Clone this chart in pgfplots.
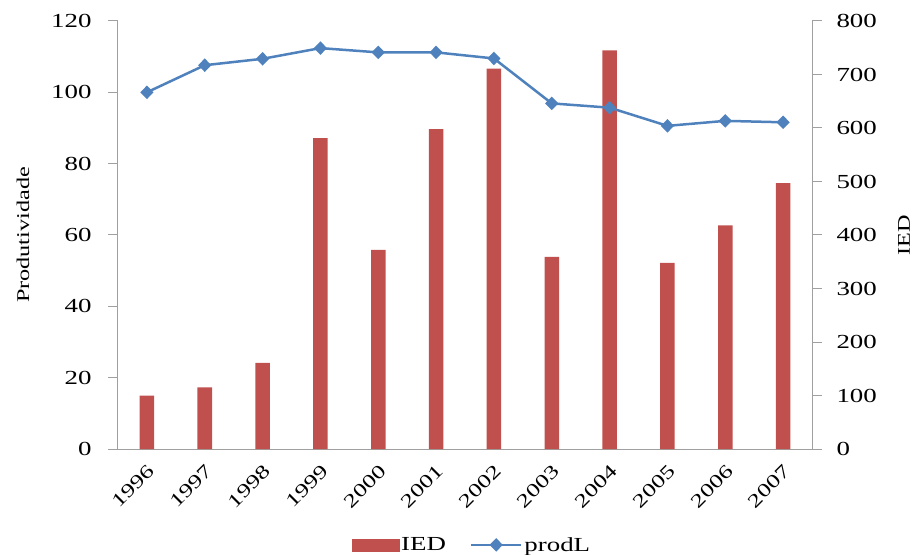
\documentclass[border=0pt]{standalone}
\usepackage{fontspec}
\setmainfont{Liberation Serif}[FakeStretch=1.35]
\usepackage{pgfplots}
\pgfplotsset{compat=1.18}
\definecolor{barred}{HTML}{C0504D}
\definecolor{lineblue}{HTML}{4F81BD}
\definecolor{axgray}{HTML}{A0A0A0}
\begin{document}
\begin{tikzpicture}
\useasboundingbox (-118bp,-106bp) rectangle (803bp,449bp);
\pgfplotsset{
 common/.style={
  at={(0,0)}, anchor=south west,
  scale only axis, width=694bp, height=428bp,
  xmin=-0.5, xmax=11.5,
  /pgf/number format/assume math mode=true,
  tick label style={font=\fontsize{20}{24}\selectfont, text=black},
  axis line style={axgray, line width=1bp},
  major tick style={axgray, line width=1bp},
  major tick length=10bp,
  tick align=outside,
 }
}
\begin{axis}[common,
  axis y line*=right, axis x line*=bottom,
  ymin=0, ymax=800, ytick={0,100,...,800},
  yticklabel={\hspace*{11bp}\pgfmathprintnumber{\tick}},
  xtick={0,...,11},
  xticklabels={1996,1997,1998,1999,2000,2001,2002,2003,2004,2005,2006,2007},
  xticklabel style={rotate=45, anchor=north east, font=\fontsize{19}{23}\selectfont},
  x tick style={draw=none},
  ylabel={IED},
  ylabel style={at={(rel axis cs:1,0.5)}, anchor=center, yshift=-92bp, font=\fontsize{18}{22}\selectfont},
  ybar, bar width=14.5bp, bar shift=0pt,
]
\addplot[fill=barred, draw=none] coordinates {
 (0,100) (1,115) (2,161) (3,581) (4,372) (5,598) (6,711) (7,359) (8,745) (9,348) (10,418) (11,497)};
\end{axis}
\begin{axis}[common,
  axis y line*=left, axis x line=none,
  ymin=0, ymax=120, ytick={0,20,...,120},
  yticklabel={\pgfmathprintnumber{\tick}\hspace*{13bp}},
  ylabel={Produtividade},
  ylabel style={at={(rel axis cs:0,0.5)}, anchor=center, yshift=95bp, font=\fontsize{18}{22}\selectfont},
  legend style={at={(0.51,-0.224)}, anchor=center, draw=none, fill=none,
    legend columns=2, font=\fontsize{20}{24}\selectfont,
    /tikz/every even column/.append style={column sep=22bp}},
]
\addlegendimage{legend image code/.code={\fill[barred] (0bp,-6bp) rectangle (47bp,6bp);}}
\addlegendentry{IED}
\addplot[lineblue, line width=2.5bp, mark=diamond*, mark size=5bp, mark options={xscale=1.3},
  legend image code/.code={\draw[lineblue, line width=2.5bp, mark=diamond*, mark size=5bp, mark options={xscale=1.3}, mark repeat=2, mark phase=2] plot coordinates {(0bp,0bp) (25bp,0bp) (50bp,0bp)};}]
 coordinates {
 (0,100) (1,107.6) (2,109.4) (3,112.4) (4,111.2) (5,111.2) (6,109.5) (7,96.9) (8,95.7) (9,90.6) (10,92.0) (11,91.6)};
\addlegendentry{prodL}
\end{axis}
\end{tikzpicture}
\end{document}
